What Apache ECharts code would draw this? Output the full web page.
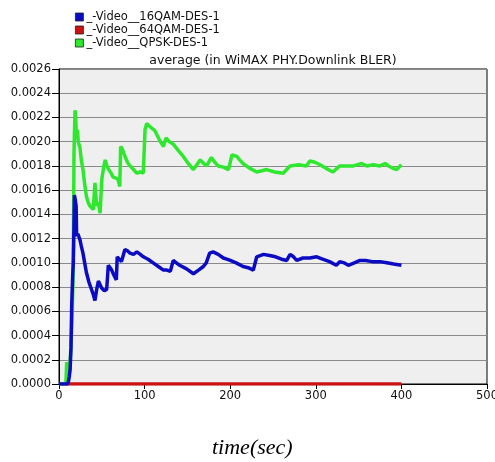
<!DOCTYPE html>
<html><head><meta charset="utf-8">
<script src="https://cdn.jsdelivr.net/npm/echarts@6/dist/echarts.min.js"></script>
<style>html,body{margin:0;padding:0;background:#fff}#c{width:495px;height:462px}</style>
</head><body><div id="c"></div>
<script>
const seriesNames = ['_-Video__16QAM-DES-1', '_-Video__64QAM-DES-1', '_-Video__QPSK-DES-1'];
const xTicks = [0, 100, 200, 300, 400, 500];

const qam16T = [0, 10, 11, 12, 13, 14, 14.8, 16, 16.7, 17.5, 18, 19, 20, 20.6, 22, 24.5, 26, 28, 30, 32, 35, 38, 40, 42, 44, 46, 48, 50, 53, 55.7, 57.6, 59, 61.6, 64, 67, 68, 70, 73, 75, 77, 80, 83, 87, 91, 95, 98.5, 104, 110, 116, 122, 126, 130, 133.5, 137, 141, 149, 157, 163, 168.6, 172, 176, 180, 186, 192, 196, 200, 207, 215, 221, 227, 231, 235, 239, 246, 253, 260, 266, 270, 274, 277.7, 285, 293, 301, 308, 316, 324, 328, 333, 338, 345, 351.6, 358, 366, 375, 383, 391, 400];
const qam16V = [0, 0, 0.00002, 0.00006, 0.00012, 0.00030, 0.00064, 0.00090, 0.00100, 0.00130, 0.00156, 0.00152, 0.00147, 0.00122, 0.00124, 0.00119, 0.00114, 0.00108, 0.00100, 0.00092, 0.00084, 0.00078, 0.00074, 0.00069, 0.00078, 0.00085, 0.00082, 0.00079, 0.00077, 0.00078, 0.00098, 0.00097, 0.00094, 0.00090, 0.00086, 0.00105, 0.00104, 0.00101, 0.00106, 0.00111, 0.00110, 0.00108, 0.00107, 0.00109, 0.00107, 0.00105, 0.00103, 0.00100, 0.00097, 0.00094, 0.00094, 0.00093, 0.00102, 0.00100, 0.00098, 0.00095, 0.00091, 0.00094, 0.00097, 0.00100, 0.00108, 0.00109, 0.00107, 0.00104, 0.00103, 0.00102, 0.00100, 0.00097, 0.00096, 0.00094, 0.00105, 0.00106, 0.00107, 0.00106, 0.00105, 0.00103, 0.00102, 0.00107, 0.00105, 0.00102, 0.00104, 0.00104, 0.00105, 0.00103, 0.00101, 0.00098, 0.00101, 0.00100, 0.00098, 0.00100, 0.00102, 0.00102, 0.00101, 0.00101, 0.00100, 0.00099, 0.00098];

const qam64T = [0, 400];
const qam64V = [0, 0];

const qpskT = [0, 8, 9, 10, 12, 14, 15.5, 16.5, 17, 17.5, 18, 18.7, 19.5, 20.5, 21.5, 22.5, 24.5, 26, 28, 30, 32, 34, 36, 38, 40, 42, 44, 46, 48, 50, 52, 54, 56, 58, 61, 63, 66, 69, 71, 72, 74, 77, 80, 83, 87, 91, 95, 98.5, 100.5, 102.5, 107, 112, 117, 122, 125, 129, 133.5, 139, 145, 151, 157, 161, 165, 169, 172.5, 178, 182, 186, 192, 198, 202, 207.5, 211, 215, 223, 231, 237, 242.6, 252, 262, 266, 270, 280, 289, 293, 299, 305, 312, 320, 328, 336, 344, 353.6, 359.5, 367, 375, 381, 385, 390, 394.5, 400];
const qpskV = [0, 0, 0.00018, 0.00008, 0.00010, 0.00030, 0.00060, 0.00090, 0.00130, 0.00190, 0.00205, 0.00226, 0.00220, 0.00202, 0.00210, 0.00200, 0.00195, 0.00185, 0.00177, 0.00165, 0.00155, 0.00150, 0.00147, 0.00146, 0.00144, 0.00166, 0.00147, 0.00150, 0.00141, 0.00169, 0.00178, 0.00185, 0.00180, 0.00177, 0.00174, 0.00171, 0.00170, 0.00169, 0.00163, 0.00196, 0.00194, 0.00188, 0.00183, 0.00180, 0.00177, 0.00174, 0.00175, 0.00174, 0.00210, 0.00215, 0.00212, 0.00209, 0.00202, 0.00196, 0.00203, 0.00200, 0.00198, 0.00193, 0.00188, 0.00182, 0.00177, 0.00181, 0.00185, 0.00182, 0.00180, 0.00187, 0.00183, 0.00180, 0.00179, 0.00177, 0.00189, 0.00188, 0.00185, 0.00182, 0.00178, 0.00175, 0.00176, 0.00177, 0.00175, 0.00174, 0.00177, 0.00180, 0.00181, 0.00180, 0.00184, 0.00183, 0.00181, 0.00178, 0.00175, 0.00180, 0.00180, 0.00180, 0.00182, 0.00180, 0.00181, 0.00180, 0.00182, 0.00180, 0.00178, 0.00177, 0.00181];

const zip = (t, v) => t.map((x, i) => [x, v[i]]);
const colors = ['#0b0bc4', '#cc1111', '#2ee82e'];
const FONT = '"DejaVu Sans", Verdana, sans-serif';

const chart = echarts.init(document.getElementById('c'), null, {renderer: 'canvas'});
chart.setOption({
  animation: false,
  backgroundColor: '#ffffff',
  textStyle: {fontFamily: FONT},
  title: {
    text: 'average (in WiMAX PHY.Downlink BLER)',
    left: 273, top: 54, textAlign: 'center', padding: 0,
    textStyle: {fontSize: 12.5, fontWeight: 'normal', color: '#111', fontFamily: FONT}
  },
  legend: {
    orient: 'vertical', left: 71, top: 7, itemWidth: 8, itemHeight: 8, itemGap: 1,
    icon: 'rect', padding: 4,
    data: seriesNames.map((n, i) => ({name: n, itemStyle: {color: colors[i], borderColor: '#222', borderWidth: 0.8}})),
    textStyle: {fontSize: 11.5, color: '#111', padding: [0, 0, 0, -2], fontFamily: FONT}
  },
  grid: {left: 59, top: 69, width: 428, height: 315, outerBoundsMode: 'none', containLabel: false, show: true, backgroundColor: '#efefef', borderColor: '#000', borderWidth: 1},
  xAxis: {
    type: 'value', min: xTicks[0], max: xTicks[xTicks.length - 1], interval: 100,
    axisLine: {lineStyle: {color: '#000'}},
    axisTick: {show: true, length: 5, lineStyle: {color: '#000'}},
    axisLabel: {color: '#111', fontSize: 11.5, margin: 6, fontFamily: FONT},
    splitLine: {show: false}
  },
  yAxis: {
    type: 'value', min: 0, max: 0.0026, interval: 0.0002,
    axisLine: {show: true, lineStyle: {color: '#000'}},
    axisTick: {show: true, length: 7, lineStyle: {color: '#000'}},
    axisLabel: {color: '#111', fontSize: 11.5, margin: 8, fontFamily: FONT, formatter: v => v.toFixed(4)},
    splitLine: {show: true, lineStyle: {color: '#8a8a8a', width: 1}}
  },
  graphic: [{
    type: 'text', left: 212, top: 437,
    style: {text: 'time(sec)', font: 'italic 22px "Liberation Serif", "Times New Roman", serif', fill: '#000'}
  }],
  series: [
    {name: seriesNames[1], type: 'line', data: zip(qam64T, qam64V), showSymbol: false, lineStyle: {color: colors[1], width: 3.5}, itemStyle: {color: colors[1]}, z: 2},
    {name: seriesNames[2], type: 'line', data: zip(qpskT, qpskV), showSymbol: false, lineStyle: {color: colors[2], width: 3.5}, itemStyle: {color: colors[2]}, z: 3},
    {name: seriesNames[0], type: 'line', data: zip(qam16T, qam16V), showSymbol: false, lineStyle: {color: colors[0], width: 3.5}, itemStyle: {color: colors[0]}, z: 4}
  ]
});
</script></body></html>
